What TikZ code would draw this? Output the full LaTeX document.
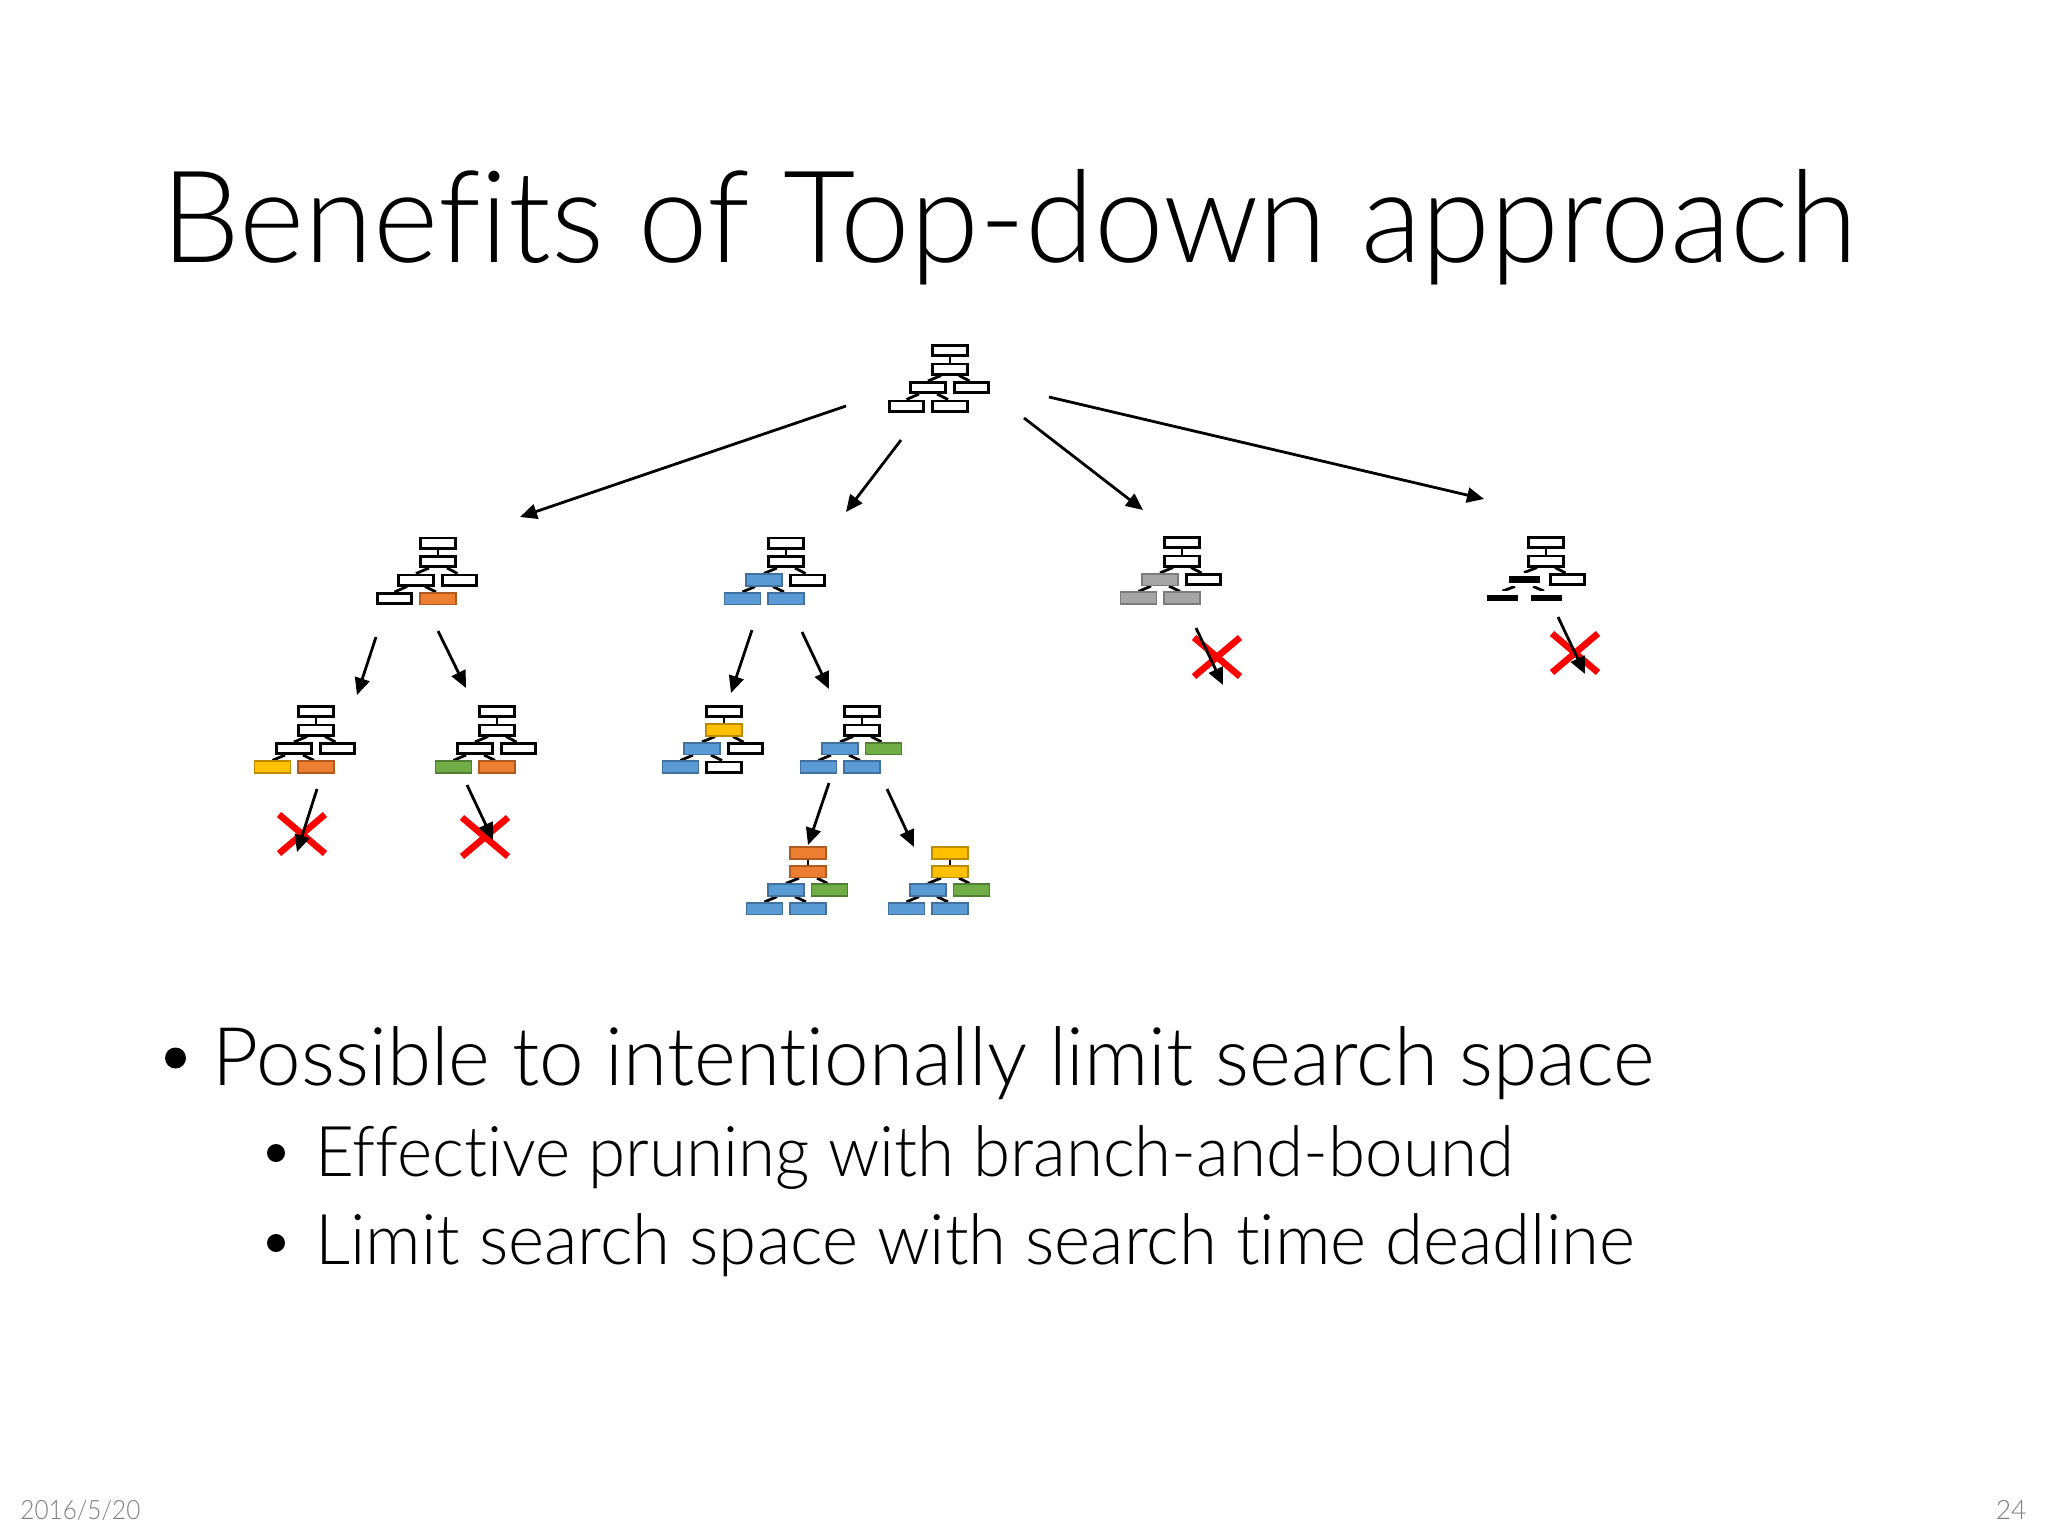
\documentclass[tikz,border=0pt]{standalone}
\usepackage{fontspec}
\setmainfont{Lato}[UprightFont=* Light, Ligatures=NoCommon]
\usetikzlibrary{arrows.meta,backgrounds}
\definecolor{oF}{HTML}{ED7D31}\definecolor{oD}{HTML}{AE5A21}
\definecolor{bF}{HTML}{5B9BD5}\definecolor{bD}{HTML}{41719C}
\definecolor{yF}{HTML}{FFC000}\definecolor{yD}{HTML}{BC8C00}
\definecolor{gF}{HTML}{70AD47}\definecolor{gD}{HTML}{507E32}
\definecolor{aF}{HTML}{A5A5A5}\definecolor{aD}{HTML}{7C7C7C}
\definecolor{xred}{HTML}{FF0000}
\definecolor{footgray}{HTML}{7F7F7F}
\newsavebox\fitbox
\newcommand\fitw[2]{\sbox\fitbox{#2}\pgfmathsetmacro\fitratio{#1/\the\wd\fitbox}\scalebox{\fitratio}[1]{\usebox\fitbox}}
\tikzset{
  bx/.style={rectangle, inner sep=0pt, minimum width=17.3pt, minimum height=5.1pt, line width=1.4pt, draw=black, fill=white},
  wb/.style={bx},
  cb/.style={bx, line width=0.8pt, minimum width=18pt, minimum height=5.8pt},
  ob/.style={cb, fill=oF, draw=oD},
  bb/.style={cb, fill=bF, draw=bD},
  yb/.style={cb, fill=yF, draw=yD},
  gb/.style={cb, fill=gF, draw=gD},
  ab/.style={cb, fill=aF, draw=aD},
  kb/.style={bx, fill=black, draw=white, line width=1.8pt},
  conn/.style={line width=1.4pt, draw=black},
  arr/.style={line width=1.4pt, draw=black, -{Triangle[length=8.5pt,width=7.5pt]}},
  xmark/.style={line width=3.3pt, draw=xred},
  txt/.style={anchor=base west, inner sep=0pt, text=black},
}
\newcommand\mytree[8]{%
\begin{scope}[shift={#2}]
\node[#3] (#1A) at (0,0) {};
\node[#4] (#1B) at (0,18.5) {};
\node[#5] (#1C) at (-22,37) {};
\node[#6] (#1D) at (21.5,37) {};
\node[#7] (#1E) at (-43.5,55.5) {};
\node[#8] (#1F) at (0,55.5) {};
\begin{pgfonlayer}{background}
\draw[conn] (#1A.south) -- (#1B.north);
\draw[conn] ([xshift=-4.5pt]#1B.south) -- (#1C.north);
\draw[conn] ([xshift=4.5pt]#1B.south) -- ([xshift=-1pt]#1D.north);
\draw[conn] ([xshift=-4.5pt]#1C.south) -- (#1E.north);
\draw[conn] ([xshift=4.5pt]#1C.south) -- ([xshift=-1pt]#1F.north);
\end{pgfonlayer}
\end{scope}}
\newcommand\xcross[1]{\draw[xmark] ([shift={(-23,-19.5)}]#1) -- ([shift={(23,19.5)}]#1);
\draw[xmark] ([shift={(-23,19.5)}]#1) -- ([shift={(23,-19.5)}]#1);}
\begin{document}
\begin{tikzpicture}[x=0.5pt,y=-0.5pt]
\begin{pgfonlayer}{background}
\fill[white] (0,0) rectangle (2048,1536);
\end{pgfonlayer}
\useasboundingbox (0,0) rectangle (2048,1536);

% title
\node[txt] (title) at (161,262) {\fontsize{64pt}{72pt}\selectfont\fitw{848}{Benefits of Top-down approach}};

% trees
\mytree{r}{(950,350.5)}{wb}{wb}{wb}{wb}{wb}{wb}
\mytree{p}{(438,543)}{wb}{wb}{wb}{wb}{wb}{ob}
\mytree{q}{(786,543)}{wb}{wb}{bb}{wb}{bb}{bb}
\mytree{s}{(1182,542.5)}{wb}{wb}{ab}{wb}{ab}{ab}
\mytree{t}{(1546,542.5)}{wb}{wb}{kb}{wb}{kb}{kb}
\mytree{pa}{(316,711.5)}{wb}{wb}{wb}{wb}{yb}{ob}
\mytree{pb}{(497,711.5)}{wb}{wb}{wb}{wb}{gb}{ob}
\mytree{qa}{(724,711.5)}{wb}{yb}{bb}{wb}{bb}{wb}
\mytree{qb}{(862,711.5)}{wb}{wb}{bb}{gb}{bb}{bb}
\mytree{qba}{(808,853)}{ob}{ob}{bb}{gb}{bb}{bb}
\mytree{qbb}{(950,853)}{yb}{yb}{bb}{gb}{bb}{bb}

% arrow end points
\coordinate (r-p1) at (846,406);  \coordinate (p-in) at (520,517);
\coordinate (r-q1) at (901,440);  \coordinate (q-in) at (846,512);
\coordinate (r-s1) at (1024,418); \coordinate (s-in) at (1143,510);
\coordinate (r-t1) at (1049,397); \coordinate (t-in) at (1484,499);
\coordinate (p-pa) at (376,637);  \coordinate (pa-in) at (357,695);
\coordinate (p-pb) at (438,631);  \coordinate (pb-in) at (466,688);
\coordinate (q-qa) at (752,630);  \coordinate (qa-in) at (731,693);
\coordinate (q-qb) at (802,632);  \coordinate (qb-in) at (829,689);
\coordinate (qb-a) at (829,783);  \coordinate (qba-in) at (808,845);
\coordinate (qb-b) at (887,789);  \coordinate (qbb-in) at (914,847);
\coordinate (pa-x) at (317,789);  \coordinate (pa-xe) at (297,852);
\coordinate (pb-x) at (467,785);  \coordinate (pb-xe) at (493,840);
\coordinate (s-x) at (1196,628);  \coordinate (s-xe) at (1223,685);
\coordinate (t-x) at (1558,617);  \coordinate (t-xe) at (1585,674);
\coordinate (xpa) at (302,834);
\coordinate (xpb) at (485,837);
\coordinate (xs) at (1217,657);
\coordinate (xt) at (1575,653);

% red crosses
\xcross{xpa}
\xcross{xpb}
\xcross{xs}
\xcross{xt}

% arrows
\draw[arr] (r-p1) -- (p-in);
\draw[arr] (r-q1) -- (q-in);
\draw[arr] (r-s1) -- (s-in);
\draw[arr] (r-t1) -- (t-in);
\draw[arr] (p-pa) -- (pa-in);
\draw[arr] (p-pb) -- (pb-in);
\draw[arr] (q-qa) -- (qa-in);
\draw[arr] (q-qb) -- (qb-in);
\draw[arr] (qb-a) -- (qba-in);
\draw[arr] (qb-b) -- (qbb-in);
\draw[arr] (pa-x) -- (pa-xe);
\draw[arr] (pb-x) -- (pb-xe);
\draw[arr] (s-x) -- (s-xe);
\draw[arr] (t-x) -- (t-xe);

% bullets
\fill[black] (175.5,1058) circle[radius=5.25pt];
\fill[black] (276,1153) circle[radius=4.5pt];
\fill[black] (276,1243) circle[radius=4.5pt];
\node[txt] (b1) at (212.5,1085) {\fontsize{40.5pt}{48pt}\selectfont\fitw{720.75}{Possible to intentionally limit search space}};
\node[txt] (b2) at (315,1176) {\fontsize{35pt}{42pt}\selectfont\fitw{599}{Effective pruning with branch-and-bound}};
\node[txt] (b3) at (315,1264) {\fontsize{35pt}{42pt}\selectfont\fitw{659.75}{Limit search space with search time deadline}};

% footer
\node[txt, text=footgray] (date) at (20,1519) {\fontsize{13.3pt}{16pt}\selectfont\fitw{60}{2016/5/20}};
\node[anchor=base east, inner sep=0pt, text=footgray] (page) at (2027,1519) {\fontsize{13.3pt}{16pt}\selectfont 24};
\end{tikzpicture}
\end{document}
